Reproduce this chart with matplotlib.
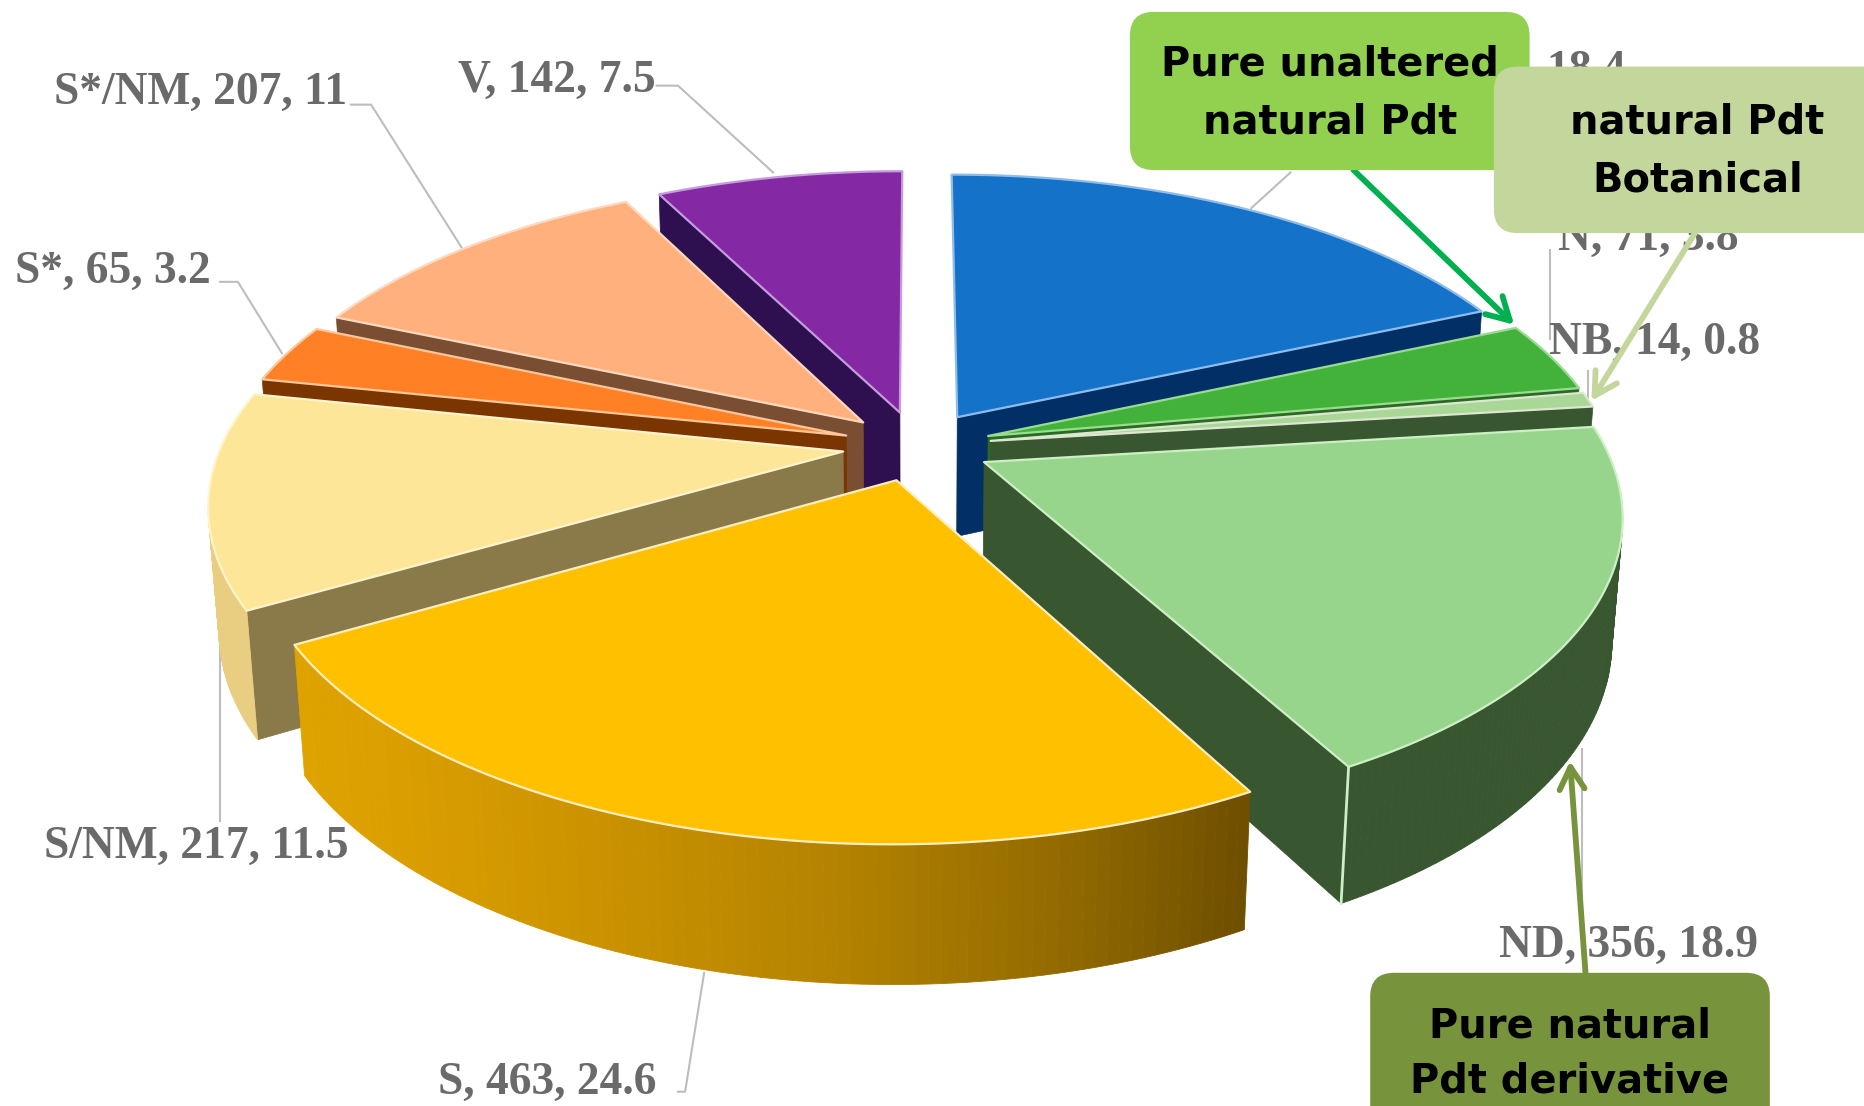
import numpy as np
import matplotlib
matplotlib.use("Agg")
import matplotlib.pyplot as plt
from matplotlib.patches import Polygon, FancyBboxPatch
from matplotlib.colors import to_rgb

categories = ["B", "N", "NB", "ND", "S", "S/NM", "S*", "S*/NM", "V"]
percents = [18.4, 3.8, 0.8, 18.9, 24.6, 11.5, 3.2, 11.0, 7.5]
top_colors = ["#1572C9", "#42B23A", "#A9D795", "#98D58C", "#FFC000", "#FDE698", "#FF8025", "#FFB07C", "#8429A3"]
edge_colors = ["#8FBDEB", "#9ADB92", "#DDE6D2", "#CDEFC5", "#FFEFC0", "#FFF4CC", "#FFC79A", "#FFD9BE", "#C59BDD"]
side_colors = ["#012F66", "#2A6A22", "#38562F", "#38562F", "#BB8800", "#8A7A4A", "#7A3500", "#7A4E33", "#2E0F4F"]
rim_colors = ["#012F66", "#2A6A22", "#38562F", "#38562F", "#BB8800", "#E9CD80", "#7A3500", "#7A4E33", "#2E0F4F"]

label_texts = ["18.4", "N, 71, 3.8", "NB, 14, 0.8", "ND, 356, 18.9", "S, 463, 24.6",
               "S/NM, 217, 11.5", "S*, 65, 3.2", "S*/NM, 207, 11", "V, 142, 7.5"]
label_left = [1300, 1310, 1302, 1260, 368, 37, 13, 45, 385]
label_y = [60, 201, 288, 795, 911, 712, 229, 78, 68]
leaders = [[(1085, 145), (1052, 175)],
           [(1303, 210), (1303, 285)],
           [(1335, 312), (1335, 335)],
           [(1330, 630), (1330, 785)],
           [(570, 918), (576, 918), (592, 818)],
           [(185, 535), (185, 690)],
           [(185, 237), (200, 237), (237, 297)],
           [(295, 88), (312, 88), (388, 208)],
           [(552, 72), (570, 72), (650, 145)]]

gold_stops_x = [250, 400, 700, 900, 1050]
gold_stops_c = ["#DFA300", "#D59A00", "#B58300", "#916900", "#6E4F00"]

CX, CY, A, B, K, D, M, EXPL = 771, 375, 523, 245, 0.165, 103, 0.015, 0.12


def project(X, Y, z=0.0):
    w = 1 - K * np.asarray(Y) + M * z
    return CX + A * np.asarray(X) / w, CY + (B * np.asarray(Y) + D * z) / w


fig = plt.figure(figsize=(18.65, 11.06), dpi=100, facecolor="white")
ax = fig.add_axes([0, 0, 1, 1])
ax.set_xlim(0, 1568)
ax.set_ylim(930, 0)
ax.axis("off")

total = sum(percents)
ends = np.cumsum(percents) / total * 2 * np.pi
starts = ends - np.array(percents) / total * 2 * np.pi
mids = (starts + ends) / 2
order = sorted(range(len(percents)), key=lambda i: -np.cos(mids[i]))


def world(i, th):
    return (EXPL * np.sin(mids[i]) + np.sin(th), -EXPL * np.cos(mids[i]) - np.cos(th))


def gold(x):
    rgb = np.array([to_rgb(c) for c in gold_stops_c])
    return tuple(np.interp(x, gold_stops_x, rgb[:, k]) for k in range(3))


z = 2
for i in order:
    s, e = starts[i], ends[i]
    ax0, ay0 = project(EXPL * np.sin(mids[i]), -EXPL * np.cos(mids[i]))
    ax1, ay1 = project(EXPL * np.sin(mids[i]), -EXPL * np.cos(mids[i]), 1)
    # cut faces
    for th, vis in ((s, s > np.pi), (e, e < np.pi)):
        if vis:
            X, Y = world(i, th)
            x0, y0 = project(X, Y)
            x1, y1 = project(X, Y, 1)
            ax.add_patch(Polygon([(ax0, ay0), (x0, y0), (x1, y1), (ax1, ay1)], closed=True,
                                 fc=side_colors[i], ec=side_colors[i], lw=0.5, zorder=z))
    # outer rim
    ths = np.linspace(s, e, 90)
    for a, b in zip(ths[:-1], ths[1:]):
        if np.cos((a + b) / 2) < -0.12:
            Xa, Ya = world(i, a)
            Xb, Yb = world(i, b)
            xa, ya = project(Xa, Ya)
            xb, yb = project(Xb, Yb)
            xa1, ya1 = project(Xa, Ya, 1)
            xb1, yb1 = project(Xb, Yb, 1)
            col = gold((xa + xb) / 2) if categories[i] == "S" else rim_colors[i]
            ax.add_patch(Polygon([(xa, ya), (xb, yb), (xb1, yb1), (xa1, ya1)], closed=True,
                                 fc=col, ec=col, lw=0.6, zorder=z))
    # seam between cut face and rim
    if categories[i] in ("ND",):
        X, Y = world(i, e)
        x0, y0 = project(X, Y)
        x1, y1 = project(X, Y, 1)
        ax.plot([x0, x1], [y0, y1], color=edge_colors[i], lw=2, zorder=z + 0.5)
    # top face
    X, Y = world(i, ths)
    xt, yt = project(X, Y)
    pts = [(ax0, ay0)] + list(zip(xt, yt))
    ax.add_patch(Polygon(pts, closed=True, fc=top_colors[i], ec=edge_colors[i], lw=1.6,
                         joinstyle="round", zorder=z + 0.6))
    z += 1

# leader lines and labels
for pts in leaders:
    xs, ys = zip(*pts)
    ax.plot(xs, ys, color="#BDBDBD", lw=1.5, zorder=1)
for txt, xl, yl in zip(label_texts, label_left, label_y):
    ax.text(xl, yl, txt, family="Liberation Serif", weight="bold", fontsize=32.8,
            color="#6A6A6A", ha="left", va="center", zorder=30)

# callouts
boxes = [(950, 10, 336, 133, "#92D050"), (1256, 56, 340, 140, "#C3D69B"), (1152, 818, 336, 160, "#77933C")]
for x, y, w, h, c in boxes:
    ax.add_patch(FancyBboxPatch((x + 20, y + 20), w - 40, h - 40, boxstyle="round,pad=20,rounding_size=20",
                                fc=c, ec="none", zorder=40))
callout_texts = [(1118, 54, "Pure unaltered"), (1118, 103, "natural Pdt"),
                 (1427, 103, "natural Pdt"), (1427, 152, "Botanical"),
                 (1320, 863, "Pure natural"), (1320, 909, "Pdt derivative")]
for x, y, t in callout_texts:
    ax.text(x, y, t, family="DejaVu Sans", weight="bold", fontsize=28.8, color="black",
            ha="center", va="center", zorder=41)

arrows = [((1138, 143), (1273, 273), "#00B050"),
          ((1425, 196), (1338, 337), "#C3D69B"),
          ((1333, 818), (1320, 640), "#77933C")]
for p0, p1, c in arrows:
    ax.annotate("", xy=p1, xytext=p0, zorder=35,
                arrowprops=dict(arrowstyle="->,head_length=0.8,head_width=0.45", color=c, lw=4.2,
                                mutation_scale=20, shrinkA=0, shrinkB=0))

fig.savefig("out.png", dpi=100, facecolor="white")
